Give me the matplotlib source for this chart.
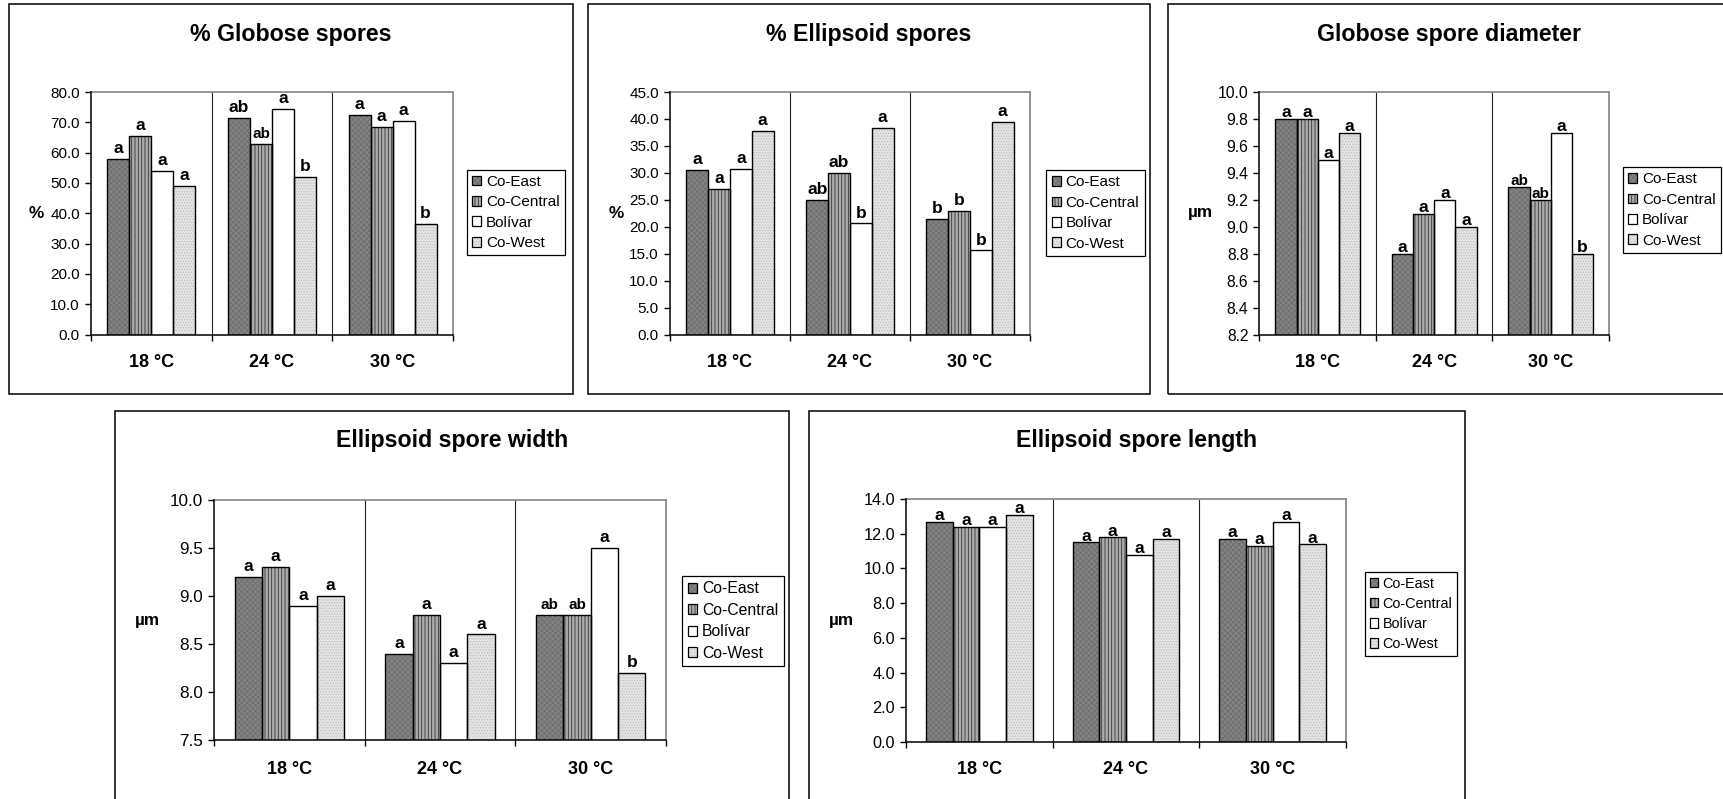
import matplotlib
matplotlib.use("Agg")
import matplotlib.pyplot as plt
import matplotlib.transforms as mtransforms
from matplotlib.patches import Rectangle, Patch
from matplotlib.legend_handler import HandlerTuple
from matplotlib.ticker import FormatStrFormatter
import numpy as np

plt.rcParams['font.family'] = ['Liberation Sans', 'DejaVu Sans']
plt.rcParams['hatch.linewidth'] = 0.6

# ---- data -------------------------------------------------------------
temperatures = ["18 °C", "24 °C", "30 °C"]
populations = ["Co-East", "Co-Central", "Bolívar", "Co-West"]

# rows: temperature, columns: population
globose_pct = [[58.0, 65.5, 54.0, 49.0],
               [71.5, 63.0, 74.5, 52.0],
               [72.5, 68.5, 70.5, 36.5]]
globose_pct_letters = [["a", "a", "a", "a"],
                       ["ab", "ab", "a", "b"],
                       ["a", "a", "a", "b"]]

ellipsoid_pct = [[30.5, 27.0, 30.7, 37.8],
                 [25.0, 30.0, 20.6, 38.4],
                 [21.5, 23.0, 15.6, 39.4]]
ellipsoid_pct_letters = [["a", "a", "a", "a"],
                         ["ab", "ab", "b", "a"],
                         ["b", "b", "b", "a"]]

globose_diameter = [[9.8, 9.8, 9.5, 9.7],
                    [8.8, 9.1, 9.2, 9.0],
                    [9.3, 9.2, 9.7, 8.8]]
globose_diameter_letters = [["a", "a", "a", "a"],
                            ["a", "a", "a", "a"],
                            ["ab", "ab", "a", "b"]]

ellipsoid_width = [[9.2, 9.3, 8.9, 9.0],
                   [8.4, 8.8, 8.3, 8.6],
                   [8.8, 8.8, 9.5, 8.2]]
ellipsoid_width_letters = [["a", "a", "a", "a"],
                           ["a", "a", "a", "a"],
                           ["ab", "ab", "a", "b"]]

ellipsoid_length = [[12.7, 12.4, 12.4, 13.1],
                    [11.5, 11.8, 10.8, 11.7],
                    [11.7, 11.3, 12.7, 11.4]]
ellipsoid_length_letters = [["a", "a", "a", "a"],
                            ["a", "a", "a", "a"],
                            ["a", "a", "a", "a"]]

# ---- styling ----------------------------------------------------------
W, H = 1724, 799
bar_styles = [
    dict(face="#848484", hatch="xxxxxx", hatchcolor="#6c6c6c"),
    dict(face="#acacac", hatch="|||||", hatchcolor="#333333"),
    dict(face="#ffffff", hatch=None, hatchcolor="#ffffff"),
    dict(face="#e4e4e4", hatch="......", hatchcolor="#bebebe"),
]

panels = [
    dict(title="% Globose spores", ylabel="%", values=globose_pct,
         letters=globose_pct_letters, ylim=(0, 80), step=10,
         axes=(91, 92, 453, 334.5), frame=(9, 4, 573, 394),
         legend=(516, 212.5), ylab=(36, 213), title_y=35, cat_y=363,
         off=2, small={(1, 1)}, tick_fs=11, leg_fs=11),
    dict(title="% Ellipsoid spores", ylabel="%", values=ellipsoid_pct,
         letters=ellipsoid_pct_letters, ylim=(0, 45), step=5,
         axes=(670, 92, 1030, 334.5), frame=(588, 4, 1150, 394),
         legend=(1095.5, 213), ylab=(616, 213), title_y=35, cat_y=363,
         off=2, small=set(), tick_fs=11, leg_fs=11),
    dict(title="Globose spore diameter", ylabel="µm", values=globose_diameter,
         letters=globose_diameter_letters, ylim=(8.2, 10.0), step=0.2,
         axes=(1259.5, 92, 1609, 335), frame=(1168, 4, 1730, 394),
         legend=(1672, 210), ylab=(1200, 213), title_y=35, cat_y=363,
         off=-1, small={(2, 0), (2, 1)}, tick_fs=11.3, leg_fs=11),
    dict(title="Ellipsoid spore width", ylabel="µm", values=ellipsoid_width,
         letters=ellipsoid_width_letters, ylim=(7.5, 10.0), step=0.5,
         axes=(214, 500, 666, 740), frame=(115, 411, 789, 820),
         legend=(733, 621), ylab=(147, 621), title_y=440, cat_y=769,
         off=2, small={(2, 0), (2, 1)}, tick_fs=12.3, leg_fs=11.3),
    dict(title="Ellipsoid spore length", ylabel="µm", values=ellipsoid_length,
         letters=ellipsoid_length_letters, ylim=(0, 14), step=2,
         axes=(906, 499, 1346, 742), frame=(809, 411, 1465, 820),
         legend=(1411, 614), ylab=(841, 621), title_y=440, cat_y=769,
         off=-1, small=set(), tick_fs=11.7, leg_fs=10.4),
]


def fx(x):
    return x / W


def fy(y):
    return 1 - y / H


fig = plt.figure(figsize=(W / 100, H / 100), dpi=100)
fig.patch.set_facecolor("white")

n_groups = len(temperatures)
n_series = len(populations)
bar_w = 1 / 5.5
x = np.arange(n_groups)

for p in panels:
    x0, y0, x1, y1 = p["axes"]
    ax = fig.add_axes([fx(x0), fy(y1), fx(x1) - fx(x0), fy(y0) - fy(y1)])
    vals = np.array(p["values"])

    for j, st in enumerate(bar_styles):
        xs = x + (j - (n_series - 1) / 2) * bar_w
        ax.bar(xs, vals[:, j], bar_w, color=st["face"], hatch=st["hatch"],
               edgecolor=st["hatchcolor"], linewidth=0, zorder=2)
        ax.bar(xs, vals[:, j], bar_w, fill=False, edgecolor="black",
               linewidth=1.0, zorder=3)
        for i in range(n_groups):
            lab = p["letters"][i][j]
            fs = 11 if (i, j) in p["small"] else 12.5
            ax.annotate(lab, (xs[i], vals[i, j]), xytext=(0, p["off"]),
                        textcoords="offset points", ha="center", va="bottom",
                        fontsize=fs, fontweight="bold", zorder=4)

    lo, hi = p["ylim"]
    ax.set_ylim(lo, hi)
    ax.set_xlim(-0.5, n_groups - 0.5)
    ax.set_yticks(np.arange(lo, hi + p["step"] / 2, p["step"]))
    ax.yaxis.set_major_formatter(FormatStrFormatter("%.1f"))
    ax.set_xticks(np.arange(n_groups + 1) - 0.5)
    ax.set_xticklabels([])
    ax.tick_params(axis="y", direction="out", length=4, width=1.0,
                   pad=4, labelsize=p["tick_fs"], colors="black")
    ax.tick_params(axis="x", direction="out", length=4, width=1.0)

    for xb in np.arange(1, n_groups) - 0.5:
        ax.axvline(xb, color="#222222", linewidth=0.8, zorder=1)

    for side in ("top", "right"):
        ax.spines[side].set_color("#8c8c8c")
        ax.spines[side].set_linewidth(1.3)
    for side in ("left", "bottom"):
        ax.spines[side].set_color("black")
        ax.spines[side].set_linewidth(1.1)
        ax.spines[side].set_zorder(5)

    cat_tr = mtransforms.blended_transform_factory(ax.transData, fig.transFigure)
    for i, t in enumerate(temperatures):
        ax.text(i, fy(p["cat_y"]), t, transform=cat_tr, ha="center",
                va="center", fontsize=13, fontweight="bold")

    handles = [(Patch(facecolor=st["face"], hatch=st["hatch"],
                      edgecolor=st["hatchcolor"], linewidth=0),
                Patch(fill=False, edgecolor="black", linewidth=0.9))
               for st in bar_styles]
    leg = ax.legend(handles, populations, loc="center",
                    handler_map={tuple: HandlerTuple(ndivide=1)},
                    bbox_to_anchor=(fx(p["legend"][0]), fy(p["legend"][1])),
                    bbox_transform=fig.transFigure, fontsize=p["leg_fs"],
                    handlelength=0.6, handleheight=0.6, handletextpad=0.3,
                    labelspacing=0.42, borderpad=0.35, borderaxespad=0,
                    fancybox=False, framealpha=1, edgecolor="black")
    leg.get_frame().set_linewidth(0.9)

    fig.text(fx(sum(p["frame"][0::2]) / 2), fy(p["title_y"]), p["title"],
             ha="center", va="center", fontsize=16.7, fontweight="bold")
    fig.text(fx(p["ylab"][0]), fy(p["ylab"][1]), p["ylabel"], ha="center",
             va="center", fontsize=12.3, fontweight="bold")

    fx0, fy0, fx1, fy1 = p["frame"]
    fig.add_artist(Rectangle((fx(fx0), fy(fy1)), fx(fx1) - fx(fx0),
                             fy(fy0) - fy(fy1), transform=fig.transFigure,
                             fill=False, edgecolor="black", linewidth=1.1))

fig.savefig("out.png", dpi=100, facecolor="white")
